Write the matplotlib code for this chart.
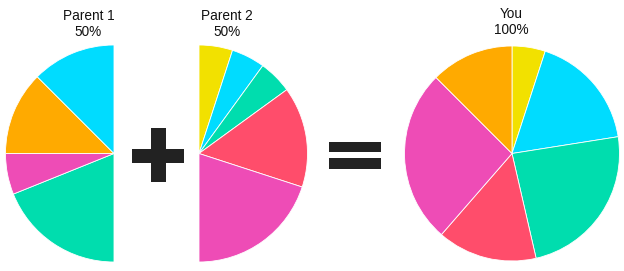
import matplotlib
matplotlib.use("Agg")
import matplotlib.pyplot as plt
from matplotlib.patches import Rectangle

plt.rcParams['font.family'] = ['Liberation Sans', 'DejaVu Sans']

# Data (fractions of the full 100%)
categories = ["Yellow", "Cyan", "Green", "Red", "Magenta", "Orange"]
colors = {"Yellow": "#F2E100", "Cyan": "#00DCFF", "Green": "#00DDAE",
          "Red": "#FF4D6B", "Magenta": "#EE4CB6", "Orange": "#FFAA00"}

# Parent 1 (left half, clockwise from bottom)
parent1_cats = ["Green", "Magenta", "Orange", "Cyan"]
parent1_vals = [0.189, 0.061, 0.125, 0.125]

# Parent 2 (right half, clockwise from top)
parent2_cats = ["Yellow", "Cyan", "Green", "Red", "Magenta"]
parent2_vals = [0.05, 0.05, 0.05, 0.15, 0.20]

# You (full pie, clockwise from top)
you_cats = ["Yellow", "Cyan", "Green", "Red", "Magenta", "Orange"]
you_vals = [0.05, 0.175, 0.239, 0.15, 0.261, 0.125]

titles = ["Parent 1\n50%", "Parent 2\n50%", "You\n100%"]

W, H = 624, 271
fig = plt.figure(figsize=(W / 100, H / 100), dpi=100)
ax = fig.add_axes([0, 0, 1, 1])

def Y(py):
    return H - py

wp = dict(edgecolor="white", linewidth=0.6)
R = 108.5

ax.pie(parent1_vals, colors=[colors[c] for c in parent1_cats], startangle=270,
       counterclock=False, normalize=False, radius=R, center=(114, Y(153.5)),
       wedgeprops=wp)
ax.pie(parent2_vals, colors=[colors[c] for c in parent2_cats], startangle=90,
       counterclock=False, normalize=False, radius=R, center=(199, Y(153.5)),
       wedgeprops=wp)
ax.pie(you_vals, colors=[colors[c] for c in you_cats], startangle=90,
       counterclock=False, normalize=True, radius=107.5, center=(512, Y(153.5)),
       wedgeprops=wp)

# Plus sign
dark = "#222222"
ax.add_patch(Rectangle((132, Y(163)), 52, 14, color=dark, lw=0))
ax.add_patch(Rectangle((151, Y(182)), 14.5, 54, color=dark, lw=0))
# Equals sign
ax.add_patch(Rectangle((328.5, Y(152)), 52.5, 10, color=dark, lw=0))
ax.add_patch(Rectangle((328.5, Y(169)), 52.5, 11, color=dark, lw=0))

# Titles
for (x, y), t in zip([(88.5, 24), (227, 24), (511, 22)], titles):
    ax.text(x, Y(y), t, ha="center", va="center", fontsize=9.8,
            color="#111111", linespacing=1.25)

ax.set_xlim(0, W)
ax.set_ylim(0, H)
ax.set_aspect("equal")
ax.axis("off")

fig.savefig("out.png", dpi=100, facecolor="white")
